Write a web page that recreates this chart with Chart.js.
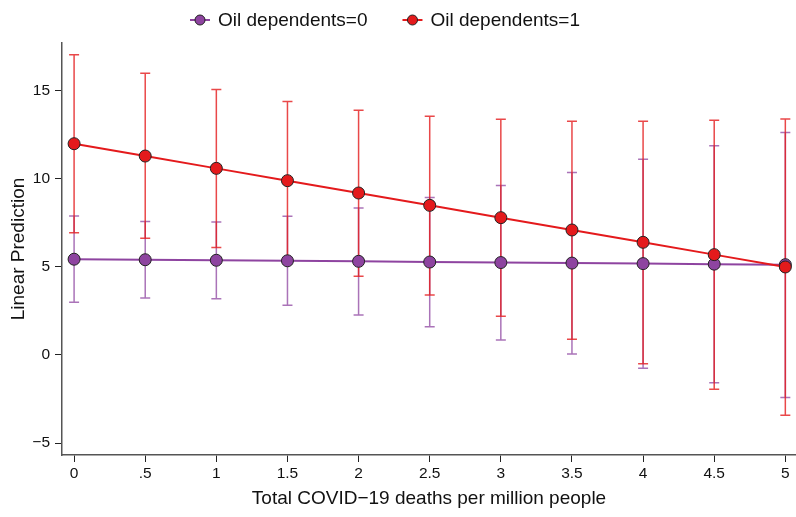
<!DOCTYPE html>
<html>
<head>
<meta charset="utf-8">
<script src="https://cdn.jsdelivr.net/npm/chart.js@4"></script>
<style>
    html, body { margin: 0; padding: 0; background: #fff; }
    #wrap { width: 796px; height: 517px; }
</style>
</head>
<body>
<div id="wrap"><canvas id="chart" width="796" height="517"></canvas></div>
<script>
// Data
const xValues = [0, 0.5, 1, 1.5, 2, 2.5, 3, 3.5, 4, 4.5, 5];
const xTickLabels = ['0', '.5', '1', '1.5', '2', '2.5', '3', '3.5', '4', '4.5', '5'];
const yTickValues = [-5, 0, 5, 10, 15];

const seriesNames = ['Oil dependents=0', 'Oil dependents=1'];

// Oil dependents=0
const pred0 = [5.44, 5.41, 5.38, 5.35, 5.32, 5.28, 5.25, 5.22, 5.19, 5.16, 5.13];
const lo0 = [2.99, 3.24, 3.19, 2.82, 2.27, 1.61, 0.85, 0.06, -0.75, -1.58, -2.41];
const hi0 = [7.90, 7.58, 7.56, 7.88, 8.35, 8.94, 9.63, 10.36, 11.12, 11.88, 12.63];

// Oil dependents=1
const pred1 = [12.0, 11.3, 10.6, 9.9, 9.2, 8.5, 7.8, 7.1, 6.4, 5.7, 5.0];
const lo1 = [6.95, 6.63, 6.10, 5.37, 4.47, 3.41, 2.20, 0.90, -0.50, -1.94, -3.42];
const hi1 = [17.05, 16.00, 15.08, 14.40, 13.90, 13.56, 13.39, 13.28, 13.28, 13.33, 13.41];

const FONT = "'Liberation Sans', Arial, Helvetica, sans-serif";
const PURPLE = '#8e44a0';
const RED = '#e41a1c';

const toPoints = (ys) => xValues.map((x, i) => ({ x: x, y: ys[i] }));
const minus = (s) => s.replace('-', '\u2212');

// Confidence interval spikes with caps
const errorBars = {
    id: 'errorBars',
    beforeDatasetsDraw(chart) {
        const { ctx, scales: { x, y } } = chart;
        const sets = [
            { lo: lo0, hi: hi0, color: 'rgba(142, 68, 160, 0.75)' },
            { lo: lo1, hi: hi1, color: 'rgba(228, 26, 28, 0.8)' }
        ];
        ctx.save();
        sets.forEach(s => {
            ctx.strokeStyle = s.color;
            ctx.lineWidth = 1.5;
            xValues.forEach((v, i) => {
                const px = x.getPixelForValue(v);
                const yl = y.getPixelForValue(s.lo[i]);
                const yh = y.getPixelForValue(s.hi[i]);
                ctx.beginPath();
                ctx.moveTo(px, yl);
                ctx.lineTo(px, yh);
                ctx.moveTo(px - 5, yl);
                ctx.lineTo(px + 5, yl);
                ctx.moveTo(px - 5, yh);
                ctx.lineTo(px + 5, yh);
                ctx.stroke();
            });
        });
        ctx.restore();
    }
};

// Stata-like legend: marker on a short line, then the label
const topLegend = {
    id: 'topLegend',
    afterDraw(chart) {
        const ctx = chart.ctx;
        const colors = [PURPLE, RED];
        const cy = 20;
        let x = 190;
        ctx.save();
        ctx.font = '19px ' + FONT;
        ctx.textBaseline = 'middle';
        seriesNames.forEach((name, i) => {
            ctx.strokeStyle = colors[i];
            ctx.lineWidth = 2;
            ctx.beginPath();
            ctx.moveTo(x, cy);
            ctx.lineTo(x + 20, cy);
            ctx.stroke();
            ctx.beginPath();
            ctx.arc(x + 10, cy, 5, 0, Math.PI * 2);
            ctx.fillStyle = colors[i];
            ctx.fill();
            ctx.strokeStyle = '#222';
            ctx.lineWidth = 1;
            ctx.stroke();
            ctx.fillStyle = '#111';
            ctx.fillText(name, x + 28, cy + 1);
            x += 28 + ctx.measureText(name).width + 35;
        });
        ctx.restore();
    }
};

const ctx = document.getElementById('chart').getContext('2d');

new Chart(ctx, {
    type: 'line',
    data: {
        datasets: [{
            label: seriesNames[0],
            data: toPoints(pred0),
            borderColor: PURPLE,
            backgroundColor: PURPLE,
            borderWidth: 2,
            pointRadius: 6,
            pointBorderColor: '#222',
            pointBorderWidth: 1,
            order: 1
        }, {
            label: seriesNames[1],
            data: toPoints(pred1),
            borderColor: RED,
            backgroundColor: RED,
            borderWidth: 2,
            pointRadius: 6,
            pointBorderColor: '#222',
            pointBorderWidth: 1,
            order: 0
        }]
    },
    options: {
        responsive: false,
        animation: false,
        layout: {
            autoPadding: false,
            padding: { top: 43, left: 0, right: 0, bottom: 0 }
        },
        plugins: {
            legend: { display: false },
            tooltip: { enabled: false }
        },
        scales: {
            x: {
                type: 'linear',
                min: -0.085,
                max: 5.075,
                border: { color: '#555', width: 1.5 },
                grid: {
                    drawOnChartArea: false,
                    drawTicks: true,
                    tickLength: 7,
                    color: '#222'
                },
                afterBuildTicks: (scale) => {
                    scale.ticks = xValues.map(v => ({ value: v }));
                },
                afterFit: (scale) => {
                    scale.height = 62;
                    scale.paddingLeft = 0;
                    scale.paddingRight = 0;
                },
                ticks: {
                    color: '#111',
                    font: { family: FONT, size: 15.5 },
                    padding: 2,
                    maxRotation: 0,
                    autoSkip: false,
                    callback: (value) => {
                        const i = xValues.indexOf(value);
                        return i >= 0 ? xTickLabels[i] : '';
                    }
                },
                title: {
                    display: true,
                    text: 'Total COVID\u221219 deaths per million people',
                    color: '#111',
                    font: { family: FONT, size: 19 },
                    padding: { top: 4, bottom: 7 }
                }
            },
            y: {
                type: 'linear',
                min: -5.68,
                max: 17.72,
                border: { color: '#555', width: 1.5 },
                grid: {
                    drawOnChartArea: false,
                    drawTicks: true,
                    tickLength: 7,
                    color: '#222'
                },
                afterBuildTicks: (scale) => {
                    scale.ticks = yTickValues.map(v => ({ value: v }));
                },
                afterFit: (scale) => {
                    scale.width = 62;
                    scale.paddingTop = 0;
                    scale.paddingBottom = 0;
                },
                ticks: {
                    color: '#111',
                    font: { family: FONT, size: 15.5 },
                    padding: 5,
                    callback: (value) => minus(String(value))
                },
                title: {
                    display: true,
                    text: 'Linear Prediction',
                    color: '#111',
                    font: { family: FONT, size: 19 },
                    padding: { top: 7, bottom: 0 }
                }
            }
        }
    },
    plugins: [errorBars, topLegend]
});
</script>
</body>
</html>
